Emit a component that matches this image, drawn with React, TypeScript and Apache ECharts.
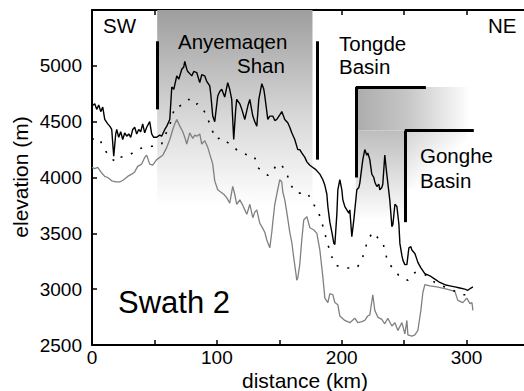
import React, { useEffect, useRef } from "react";
import * as echarts from "echarts";

const FONT = '"Liberation Sans", Arial, Helvetica, sans-serif';

// Maximum elevation along the swath
const maxKm = [0,2.2,3.8,5.4,7.0,8.6,10.2,12.6,14.2,15.8,17.4,19.0,19.8,21.4,23.0,24.6,26.2,27.8,29.4,31.0,32.6,34.2,35.8,37.4,39.0,40.6,42.2,43.8,46.2,47.8,49.4,51.8,54.2,55.8,58.3,59.9,62.3,63.9,65.5,67.9,69.5,71.9,73.5,74.3,75.9,76.7,78.3,79.9,81.5,83.9,85.5,86.3,87.9,90.3,91.9,94.3,95.1,96.7,98.3,100.7,102.3,103.9,106.3,108.7,110.3,111.9,113.5,115.1,115.9,118.4,120.0,122.4,124.8,126.4,128.8,130.4,132.0,133.6,136.0,137.6,138.4,140.8,142.4,144.8,146.4,148.0,150.4,152.0,154.4,156.8,158.4,160.0,162.4,164.8,166.4,168.0,170.5,172.1,174.5,176.9,179.3,182.5,184.9,186.5,188.1,188.9,190.5,192.1,193.7,194.5,196.1,196.9,198.5,200.1,200.9,202.5,204.1,205.7,206.5,208.1,209.7,210.5,212.1,213.7,214.5,216.1,216.9,218.5,220.1,220.9,222.5,224.1,225.7,226.5,228.1,229.7,230.5,232.1,232.9,234.5,236.1,238.5,240.2,241.0,242.6,244.2,245.8,246.6,248.2,249.0,250.6,252.2,253.8,255.4,256.2,258.6,261.0,263.4,266.6,270.6,274.6,278.6,282.6,286.6,290.6,294.6,298.6,301.0,303.5,305.1];
const maxElev = [4640,4660,4610,4650,4590,4630,4520,4480,4460,4430,4190,4390,4430,4360,4410,4340,4400,4370,4390,4360,4430,4450,4390,4430,4410,4480,4400,4450,4500,4390,4360,4360,4380,4370,4430,4460,4520,4810,4790,4910,4880,4970,4990,5040,4970,4950,4930,4910,4950,4940,4880,4850,4920,4910,4860,4820,4750,4550,4500,4730,4770,4790,4720,4850,4790,4700,4340,4610,4700,4660,4610,4520,4640,4700,4550,4500,4460,4700,4840,4790,4730,4520,4550,4550,4510,4520,4560,4590,4520,4490,4450,4400,4340,4250,4250,4220,4180,4140,4110,4090,4070,4030,3980,3930,3850,3740,3600,3510,3410,3400,3670,3890,3980,3890,3800,3740,3710,3680,3710,3470,3620,3710,3890,3910,3950,4090,4160,4250,4200,4220,4160,4030,4000,3960,3920,3940,3890,3910,3940,4200,4030,3800,3560,3580,3760,3740,3580,3410,3300,3260,3220,3220,3370,3380,3350,3320,3240,3190,3140,3120,3090,3060,3040,3030,3020,3010,3000,2990,3010,3020];

// Mean elevation
const meanKm = [0,3.8,6.2,10.2,14.2,16.6,19.8,22.2,26.2,30.2,35.8,42.2,47.8,51.8,55.8,59.1,62.3,66.3,70.3,73.5,77.5,80.7,84.7,87.9,91.1,94.3,96.7,99.9,103.1,107.9,112.7,116.7,119.9,124.8,128.8,131.2,132.8,136.8,140.8,144.0,148.0,152.0,156.0,160.0,164.0,168.8,172.8,176.0,180.8,184.0,186.5,188.9,192.1,194.5,198.5,204.9,212.1,216.1,218.5,220.9,224.9,228.9,232.9,236.9,240.9,246.6,253.0,258.6,266.6,274.6,282.6,289.0,297.0,304.3];
const meanElev = [4340,4360,4340,4250,4180,4160,4140,4180,4190,4200,4250,4270,4280,4280,4300,4390,4470,4630,4640,4660,4700,4650,4660,4630,4570,4480,4410,4340,4360,4320,4280,4240,4220,4200,4200,4160,4090,4050,4020,4040,4120,4110,4030,3920,3860,3860,3860,3780,3710,3600,3500,3400,3290,3220,3200,3190,3190,3260,3350,3440,3510,3460,3420,3240,3190,3110,3080,3150,3130,3060,3020,2990,2950,2950];

// Minimum elevation
const minKm = [0,2.2,4.6,7.8,10.2,12.6,15.8,19.0,22.2,25.4,28.6,31.8,34.2,36.6,39.8,42.2,43.8,46.2,48.6,51.8,54.2,56.7,59.9,62.3,64.7,66.3,67.9,70.3,72.7,74.3,75.9,78.3,80.7,82.3,83.9,86.3,87.9,90.3,92.7,95.1,96.7,98.3,100.7,103.1,105.5,107.9,110.3,112.7,114.3,115.9,118.4,120.8,122.4,124.0,126.4,128.8,130.4,132.0,134.4,136.0,138.4,140.0,142.4,144.0,144.8,146.4,148.0,150.4,152.0,152.8,154.4,156.0,158.4,160.0,161.6,163.2,164.0,164.8,166.4,168.0,169.6,172.1,174.5,177.7,180.1,182.5,184.9,186.5,188.9,190.5,192.9,194.5,196.9,198.5,202.5,206.5,210.5,212.9,216.1,218.5,220.9,222.5,224.9,226.5,228.9,232.1,234.5,236.9,240.2,242.6,245.0,248.2,250.6,252.2,253.0,256.2,258.6,261.0,263.4,265.0,266.6,270.6,276.2,284.2,290.6,293.0,297.0,300.2,302.7,304.3,305.1];
const minElev = [4090,4080,4090,4040,4010,4000,3970,3960,3960,3980,4010,4030,4050,4100,4120,4180,4200,4120,4110,4160,4180,4200,4270,4340,4430,4480,4520,4460,4410,4360,4300,4400,4350,4380,4370,4390,4300,4330,4270,4180,4120,3970,3890,3870,3850,3820,3770,3920,3850,3760,3800,3750,3710,3670,3760,3640,3690,3710,3590,3560,3510,3440,3370,3510,3600,3760,3850,3980,3960,3870,3800,3690,3510,3420,3280,3150,3080,3100,3220,3440,3620,3650,3550,3530,3500,3350,3110,2920,2880,2960,2950,2880,2860,2760,2720,2700,2740,2700,2710,2720,2760,2770,2950,2810,2750,2730,2690,2740,2670,2700,2630,2700,2600,2720,2590,2580,2590,2630,2810,2970,3040,3030,3020,3000,2980,2900,2880,2920,2870,2880,2810];

const xTickLabels = [0, 100, 200, 300];
const yTickLabels = [2500, 3000, 3500, 4000, 4500, 5000];

// Annotation brackets: [x1, y1, x2, y2] in km / m
const bracketLines = [
  [52.2, 5220, 52.2, 4610],
  [180.1, 5220, 180.1, 4160],
  [211.3, 4810, 267.4, 4810],
  [211.3, 4810, 211.3, 4000],
  [250.6, 4420, 305.8, 4420],
  [250.6, 4420, 250.6, 3600],
];

const toPairs = (xs: number[], ys: number[]) => xs.map((x, i) => [x, ys[i]]);

function lg(x: number, y: number, x2: number, y2: number, stops: [number, string][]) {
  return new echarts.graphic.LinearGradient(
    x, y, x2, y2,
    stops.map(([offset, color]) => ({ offset, color }))
  );
}

export default function App() {
  const ref = useRef<HTMLDivElement>(null);
  useEffect(() => {
    if (!ref.current) return;
    const chart = echarts.init(ref.current, undefined, { renderer: "svg" });
    const txt = (text: string, x: number, y: number, size = 20.5, extra: any = {}) => ({
      type: "text",
      x,
      y,
      z: 100,
      silent: true,
      ...extra,
      style: {
        text,
        fill: "#000",
        font: `${size}px ${FONT}`,
        align: "left",
        verticalAlign: "middle",
        ...(extra.style || {}),
      },
    });
    const axisCommon = {
      axisLine: { show: true, onZero: false, lineStyle: { color: "#000", width: 2 } },
      axisTick: { show: true, inside: true, length: 5, lineStyle: { color: "#000", width: 1.5 } },
      splitLine: { show: false },
    };
    const option: any = {
      animation: false,
      backgroundColor: "#fff",
      grid: {
        left: 92,
        top: 10,
        width: 437,
        height: 335,
        containLabel: false,
        outerBoundsMode: "none",
      },
      xAxis: [
        {
          type: "value",
          min: 0,
          max: 350,
          interval: 50,
          position: "bottom",
          ...axisCommon,
          axisLabel: {
            color: "#000",
            fontSize: 19,
            fontFamily: FONT,
            margin: 3,
            lineHeight: 19,
            formatter: (v: number) => (xTickLabels.includes(v) ? String(v) : ""),
          },
        },
        {
          type: "value",
          min: 0,
          max: 350,
          interval: 50,
          position: "top",
          ...axisCommon,
          axisLabel: { show: false },
        },
      ],
      yAxis: {
        type: "value",
        min: 2500,
        max: 5500,
        interval: 500,
        ...axisCommon,
        axisLabel: {
          color: "#000",
          fontSize: 19,
          fontFamily: FONT,
          margin: 10,
          formatter: (v: number) => (yTickLabels.includes(v) ? String(v) : ""),
        },
      },
      series: [
        {
          name: "min",
          type: "line",
          data: toPairs(minKm, minElev),
          showSymbol: false,
          symbol: "none",
          z: 3,
          lineStyle: { color: "#808080", width: 1.3 },
        },
        {
          name: "mean",
          type: "line",
          data: toPairs(meanKm, meanElev),
          showSymbol: false,
          symbol: "none",
          z: 3,
          lineStyle: { color: "#000", width: 1.6, type: [2, 9] },
        },
        {
          name: "max",
          type: "line",
          data: toPairs(maxKm, maxElev),
          showSymbol: false,
          symbol: "none",
          z: 3,
          lineStyle: { color: "#000", width: 1.4 },
          markArea: {
            silent: true,
            z: 1,
            label: { show: false },
            data: [
              [
                { coord: [52.2, 5500], itemStyle: { opacity: 1, color: lg(0, 0, 0, 1, [[0, "#9e9e9e"], [0.55, "#d8d8d8"], [1, "#ffffff"]]) } },
                { coord: [176.6, 3750] },
              ],
              [
                { coord: [211.3, 4810], itemStyle: { opacity: 1, color: lg(0, 0, 1, 0, [[0, "#acacac"], [0.45, "#c6c6c6"], [1, "#ffffff"]]) } },
                { coord: [303, 4420] },
              ],
              [
                { coord: [211.3, 4420], itemStyle: { opacity: 1, color: lg(0, 0, 0, 1, [[0, "#bdbdbd"], [1, "#ffffff"]]) } },
                { coord: [250.6, 3620] },
              ],
              [
                { coord: [250.6, 4420], itemStyle: { opacity: 1, color: lg(0, 0, 1, 1, [[0, "#d2d2d2"], [0.6, "#ffffff"], [1, "#ffffff"]]) } },
                { coord: [300, 3900] },
              ],
            ],
          },
          markLine: {
            silent: true,
            symbol: "none",
            z: 5,
            label: { show: false },
            lineStyle: { color: "#000", width: 3, type: "solid" },
            emphasis: { disabled: true },
            data: bracketLines.map(([x1, y1, x2, y2]) => [
              { coord: [x1, y1] },
              { coord: [x2, y2] },
            ]),
          },
        },
      ],
      graphic: [
        txt("SW", 103, 25),
        txt("NE", 488, 25),
        txt("Anyemaqen", 178, 41),
        txt("Shan", 237, 65),
        txt("Tongde", 339, 43),
        txt("Basin", 339, 66),
        txt("Gonghe", 420, 155),
        txt("Basin", 420, 180),
        txt("Swath 2", 118, 302, 31),
        txt("distance (km)", 305, 380, 21, { style: { align: "center" } }),
        txt("elevation (m)", 20, 177, 21, { rotation: Math.PI / 2, style: { align: "center" } }),
      ],
    };
    chart.setOption(option);
    return () => chart.dispose();
  }, []);
  return (
    <div
      ref={ref}
      style={{ position: "fixed", left: 0, top: 0, width: 524, height: 391, background: "#fff" }}
    />
  );
}
